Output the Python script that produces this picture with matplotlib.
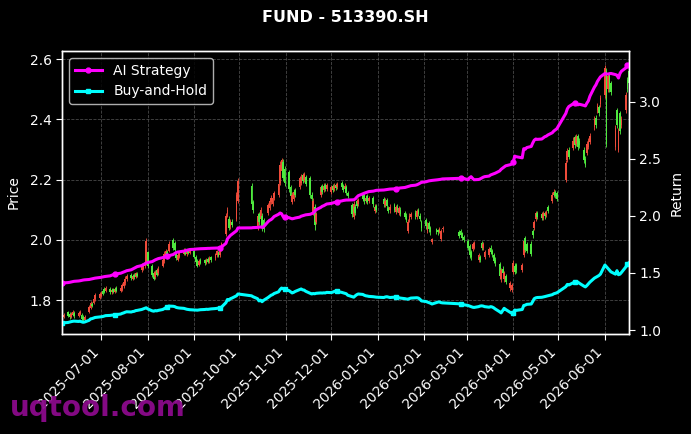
import matplotlib
matplotlib.use("Agg")
import matplotlib.pyplot as plt
import matplotlib.dates as mdates
import numpy as np
import pandas as pd

# ---------------- data ----------------
start_date = "2025-06-05"
end_date = "2026-06-17"
holidays = ["2025-10-01", "2025-10-02", "2025-10-03", "2025-10-06", "2025-10-07", "2025-10-08",
            "2026-01-01", "2026-01-02",
            "2026-02-16", "2026-02-17", "2026-02-18", "2026-02-19", "2026-02-20", "2026-02-23",
            "2026-04-06", "2026-05-01", "2026-05-04", "2026-05-05"]

opens = [
    # 2025-06
    1.738,1.745,1.760,1.755,1.745,1.752,1.758,1.748,1.755,1.752,1.745,1.735,1.762,1.775,1.788,1.790,1.803,1.808,
    # 2025-07
    1.815,1.830,1.838,1.832,1.838,1.826,1.836,1.828,1.840,1.832,1.835,1.848,1.858,1.870,1.884,1.872,1.885,1.878,1.888,1.900,1.905,1.912,1.925,
    # 2025-08
    1.960,1.915,1.890,1.878,1.900,1.890,1.915,1.930,1.945,1.960,1.965,2.000,1.990,1.958,1.935,1.945,1.955,1.968,1.952,1.965,1.958,
    # 2025-09
    1.962,1.945,1.930,1.918,1.935,1.932,1.925,1.938,1.930,1.942,1.940,1.950,1.958,1.950,1.968,2.020,2.085,2.070,2.045,2.060,2.070,2.130,
    # 2025-10
    2.180,2.125,2.040,2.085,2.070,2.080,2.065,2.090,2.105,2.125,2.120,2.140,2.150,2.190,2.230,2.260,2.235,
    # 2025-11
    2.225,2.175,2.125,2.135,2.165,2.175,2.190,2.215,2.200,2.210,2.205,2.150,2.090,2.110,2.060,2.150,2.180,2.165,2.182,2.170,
    # 2025-12
    2.160,2.178,2.168,2.182,2.175,2.190,2.180,2.168,2.175,2.155,2.115,2.075,2.110,2.128,2.120,2.150,2.148,2.130,2.145,2.128,2.140,2.095,2.112,
    # 2026-01
    2.135,2.115,2.132,2.105,2.098,2.115,2.092,2.110,2.090,2.100,2.088,2.080,2.030,2.065,2.075,2.090,2.075,2.098,2.080,2.060,
    # 2026-02
    2.065,2.030,2.055,2.040,1.992,2.035,2.032,2.028,2.002,2.035,2.025,2.030,2.022,2.010,
    # 2026-03
    1.998,1.980,1.960,1.970,1.975,1.935,1.945,1.990,1.972,1.945,1.950,1.975,1.965,1.950,1.935,1.920,1.870,1.905,1.870,1.880,1.840,1.835,
    # 2026-04
    1.895,1.915,1.918,1.900,1.950,2.005,1.985,1.988,2.030,2.040,2.070,2.090,2.085,2.072,2.090,2.082,2.110,2.130,2.148,2.160,2.155,
    # 2026-05
    2.200,2.265,2.300,2.305,2.340,2.320,2.345,2.330,2.300,2.270,2.290,2.310,2.325,2.375,2.405,2.430,2.440,2.450,
    # 2026-06
    2.480,2.560,2.500,2.550,2.520,2.310,2.430,2.300,2.420,2.380,2.430,2.530,2.560,
]

closes = [
    # 2025-06
    1.745,1.750,1.748,1.745,1.756,1.760,1.748,1.757,1.760,1.738,1.735,1.745,1.778,1.790,1.782,1.805,1.818,1.820,
    # 2025-07
    1.822,1.822,1.828,1.840,1.828,1.834,1.828,1.838,1.832,1.842,1.850,1.862,1.872,1.880,1.874,1.882,1.878,1.890,1.882,1.915,1.918,1.925,1.995,
    # 2025-08
    1.915,1.885,1.872,1.895,1.885,1.905,1.935,1.955,1.962,1.945,1.985,1.975,1.968,1.940,1.950,1.958,1.968,1.955,1.962,1.958,1.965,
    # 2025-09
    1.945,1.928,1.915,1.930,1.925,1.922,1.935,1.928,1.940,1.932,1.952,1.962,1.948,1.965,1.985,2.080,2.100,2.040,2.062,2.050,2.150,2.195,
    # 2025-10
    2.120,2.100,2.080,2.060,2.100,2.040,2.035,2.115,2.130,2.140,2.138,2.155,2.185,2.250,2.265,2.205,2.190,
    # 2025-11
    2.170,2.145,2.150,2.160,2.150,2.205,2.210,2.195,2.220,2.185,2.150,2.135,2.130,2.050,2.085,2.175,2.160,2.180,2.170,2.182,
    # 2025-12
    2.175,2.165,2.180,2.172,2.185,2.175,2.165,2.180,2.155,2.145,2.085,2.120,2.090,2.112,2.132,2.135,2.128,2.140,2.125,2.140,2.118,2.110,2.100,
    # 2026-01
    2.118,2.130,2.112,2.095,2.110,2.100,2.108,2.100,2.105,2.085,2.075,2.065,2.060,2.080,2.085,2.078,2.095,2.085,2.070,2.040,
    # 2026-02
    2.045,2.050,2.035,2.025,2.002,2.028,2.025,2.036,2.030,2.040,2.012,2.018,2.008,2.000,
    # 2026-03
    1.975,1.950,1.942,1.985,1.990,1.950,1.935,1.975,1.985,1.960,1.970,1.960,1.952,1.930,1.922,1.880,1.900,1.890,1.890,1.862,1.858,1.850,
    # 2026-04
    1.925,1.895,1.900,1.918,1.995,1.968,1.965,1.955,2.015,2.058,2.088,2.075,2.072,2.088,2.078,2.092,2.095,2.150,2.160,2.145,2.135,
    # 2026-05
    2.255,2.295,2.275,2.330,2.315,2.340,2.310,2.315,2.265,2.250,2.320,2.330,2.345,2.400,2.380,2.445,2.420,2.470,
    # 2026-06
    2.570,2.320,2.545,2.500,2.490,2.370,2.380,2.360,2.360,2.400,2.480,2.500,2.520,
]

highs = [
    1.752,1.758,1.765,1.760,1.762,1.768,1.764,1.763,1.766,1.758,1.750,1.752,1.784,1.796,1.794,1.812,1.824,1.826,
    1.830,1.836,1.845,1.846,1.843,1.840,1.842,1.844,1.846,1.848,1.856,1.868,1.880,1.886,1.890,1.888,1.892,1.895,1.894,1.922,1.925,1.932,2.005,
    1.965,1.920,1.896,1.902,1.906,1.912,1.942,1.962,1.970,1.966,1.995,2.006,1.996,1.963,1.956,1.964,1.974,1.973,1.968,1.970,1.971,
    1.967,1.950,1.936,1.936,1.940,1.938,1.941,1.943,1.946,1.947,1.958,1.968,1.964,1.971,1.992,2.090,2.110,2.078,2.070,2.068,2.160,2.205,
    2.188,2.132,2.090,2.092,2.110,2.088,2.072,2.122,2.138,2.148,2.146,2.162,2.195,2.262,2.272,2.268,2.245,
    2.232,2.182,2.158,2.168,2.172,2.212,2.218,2.222,2.226,2.216,2.212,2.158,2.138,2.118,2.092,2.182,2.186,2.188,2.190,2.190,
    2.182,2.185,2.188,2.190,2.192,2.196,2.186,2.188,2.182,2.162,2.122,2.130,2.118,2.135,2.140,2.158,2.155,2.148,2.152,2.146,2.146,2.118,2.120,
    2.142,2.138,2.140,2.112,2.118,2.122,2.115,2.118,2.112,2.108,2.095,2.088,2.068,2.088,2.092,2.098,2.102,2.105,2.088,2.066,
    2.072,2.058,2.062,2.046,2.008,2.040,2.038,2.042,2.038,2.046,2.032,2.036,2.028,2.016,
    2.004,1.986,1.966,1.992,1.996,1.956,1.950,1.996,1.992,1.966,1.978,1.982,1.970,1.956,1.942,1.926,1.908,1.912,1.898,1.886,1.865,1.858,
    1.932,1.922,1.925,1.925,2.002,2.012,1.992,1.995,2.036,2.065,2.095,2.097,2.092,2.095,2.097,2.100,2.116,2.158,2.168,2.166,2.162,
    2.265,2.305,2.308,2.340,2.348,2.350,2.352,2.338,2.308,2.278,2.330,2.338,2.355,2.410,2.414,2.455,2.448,2.480,
    2.582,2.570,2.555,2.558,2.528,2.380,2.438,2.370,2.428,2.410,2.490,2.540,2.570,
]

lows = [
    1.733,1.740,1.744,1.738,1.741,1.748,1.742,1.744,1.750,1.732,1.730,1.731,1.758,1.770,1.776,1.786,1.798,1.803,
    1.810,1.816,1.823,1.828,1.822,1.820,1.823,1.824,1.826,1.828,1.830,1.842,1.852,1.865,1.868,1.866,1.872,1.873,1.876,1.895,1.900,1.906,1.918,
    1.908,1.878,1.866,1.872,1.880,1.885,1.910,1.925,1.940,1.938,1.960,1.968,1.962,1.932,1.930,1.940,1.950,1.950,1.947,1.952,1.953,
    1.940,1.922,1.910,1.913,1.919,1.917,1.920,1.922,1.925,1.926,1.935,1.945,1.942,1.945,1.962,2.012,2.075,2.032,2.038,2.042,2.062,2.122,
    2.110,2.090,2.032,2.050,2.062,2.030,2.028,2.082,2.098,2.118,2.112,2.132,2.142,2.182,2.220,2.195,2.180,
    2.160,2.135,2.118,2.128,2.142,2.168,2.182,2.188,2.192,2.178,2.140,2.126,2.082,2.032,2.052,2.142,2.152,2.158,2.164,2.164,
    2.152,2.158,2.162,2.165,2.168,2.168,2.158,2.160,2.148,2.138,2.075,2.068,2.082,2.105,2.112,2.128,2.120,2.124,2.118,2.122,2.110,2.088,2.092,
    2.110,2.108,2.105,2.088,2.090,2.092,2.085,2.092,2.082,2.078,2.068,2.058,2.022,2.058,2.068,2.070,2.068,2.078,2.062,2.030,
    2.038,2.022,2.028,2.018,1.986,2.020,2.018,2.022,1.996,2.028,2.006,2.010,2.000,1.992,
    1.968,1.940,1.935,1.965,1.970,1.928,1.928,1.968,1.966,1.938,1.944,1.952,1.945,1.922,1.915,1.870,1.862,1.882,1.862,1.855,1.832,1.828,
    1.888,1.888,1.892,1.893,1.942,1.960,1.958,1.948,2.008,2.034,2.064,2.068,2.066,2.066,2.070,2.076,2.088,2.124,2.142,2.138,2.128,
    2.192,2.258,2.268,2.298,2.306,2.312,2.300,2.305,2.255,2.242,2.282,2.302,2.318,2.366,2.370,2.420,2.410,2.442,
    2.470,2.310,2.490,2.490,2.480,2.300,2.370,2.292,2.350,2.372,2.420,2.490,2.510,
]

ai_strategy = [
    1.410,1.413,1.416,1.418,1.421,1.424,1.427,1.430,1.432,1.435,1.438,1.440,1.443,1.446,1.449,1.452,1.455,1.460,
    1.462,1.465,1.468,1.470,1.475,1.480,1.485,1.490,1.493,1.498,1.503,1.508,1.514,1.520,1.528,1.535,1.542,1.550,1.556,1.565,1.572,1.580,1.588,
    1.592,1.600,1.608,1.615,1.620,1.626,1.635,1.640,1.645,1.648,1.652,1.662,1.672,1.680,1.684,1.686,1.692,1.696,1.700,1.703,1.706,
    1.708,1.710,1.711,1.712,1.713,1.714,1.715,1.716,1.716,1.717,1.718,1.719,1.720,1.722,1.728,1.760,1.800,1.815,1.830,1.840,1.870,1.895,
    1.896,1.898,1.900,1.902,1.904,1.900,1.905,1.950,1.962,1.968,1.980,1.995,2.015,2.026,2.020,1.995,1.990,
    1.985,1.980,1.975,1.978,1.982,1.990,1.998,2.002,2.005,2.010,2.015,2.020,2.026,2.040,2.055,2.075,2.085,2.090,2.098,2.105,
    2.110,2.114,2.118,2.122,2.126,2.132,2.136,2.138,2.140,2.140,2.141,2.142,2.150,2.165,2.178,2.195,2.200,2.205,2.210,2.214,2.218,2.222,2.225,
    2.228,2.230,2.232,2.234,2.236,2.238,2.240,2.242,2.244,2.246,2.250,2.254,2.258,2.262,2.266,2.270,2.274,2.280,2.288,2.295,
    2.300,2.304,2.308,2.310,2.312,2.316,2.318,2.320,2.322,2.325,2.330,2.333,2.333,2.330,
    2.318,2.335,2.345,2.330,2.318,2.320,2.325,2.333,2.340,2.345,2.350,2.360,2.365,2.370,2.375,2.395,2.410,2.420,2.430,2.440,2.450,2.455,
    2.470,2.525,2.520,2.510,2.590,2.585,2.600,2.610,2.640,2.665,2.675,2.672,2.675,2.685,2.695,2.700,2.710,2.730,2.745,2.755,2.765,
    2.900,2.940,2.960,2.985,2.990,2.985,2.975,2.980,2.970,2.965,2.990,3.010,3.050,3.130,3.150,3.180,3.200,3.220,
    3.250,3.245,3.245,3.248,3.250,3.240,3.235,3.210,3.250,3.270,3.300,3.320,3.330,
]

buy_and_hold = [
    1.060,1.063,1.066,1.070,1.073,1.076,1.078,1.075,1.078,1.072,1.068,1.070,1.085,1.098,1.100,1.105,1.110,1.114,
    1.116,1.118,1.122,1.126,1.128,1.130,1.131,1.134,1.135,1.140,1.146,1.150,1.156,1.160,1.158,1.162,1.164,1.170,1.172,1.180,1.185,1.190,1.195,
    1.185,1.168,1.165,1.170,1.168,1.172,1.180,1.188,1.195,1.200,1.210,1.208,1.205,1.198,1.195,1.193,1.190,1.186,1.182,1.180,1.178,
    1.176,1.175,1.174,1.176,1.178,1.180,1.182,1.181,1.183,1.185,1.188,1.190,1.192,1.194,1.200,1.240,1.268,1.262,1.275,1.280,1.300,1.316,
    1.300,1.292,1.275,1.255,1.262,1.248,1.260,1.285,1.295,1.305,1.310,1.320,1.335,1.355,1.368,1.362,1.358,
    1.345,1.335,1.325,1.330,1.338,1.355,1.360,1.352,1.350,1.340,1.322,1.316,1.320,1.318,1.322,1.325,1.324,1.326,1.325,1.330,
    1.328,1.332,1.338,1.342,1.338,1.330,1.326,1.322,1.318,1.305,1.292,1.288,1.300,1.310,1.316,1.312,1.305,1.300,1.298,1.295,1.292,1.290,1.288,
    1.285,1.290,1.292,1.288,1.285,1.288,1.290,1.286,1.283,1.280,1.275,1.272,1.270,1.276,1.280,1.282,1.283,1.280,1.270,1.255,
    1.250,1.245,1.240,1.235,1.228,1.240,1.245,1.246,1.240,1.238,1.230,1.228,1.226,1.222,
    1.215,1.210,1.205,1.200,1.198,1.205,1.210,1.212,1.210,1.205,1.200,1.205,1.202,1.195,1.185,1.160,1.150,1.170,1.190,1.180,1.155,1.148,
    1.150,1.175,1.172,1.180,1.215,1.218,1.225,1.228,1.250,1.275,1.282,1.285,1.287,1.290,1.293,1.297,1.300,1.310,1.318,1.322,1.326,
    1.380,1.400,1.395,1.415,1.422,1.415,1.420,1.410,1.385,1.378,1.390,1.405,1.420,1.455,1.462,1.470,1.478,1.490,
    1.570,1.555,1.540,1.525,1.510,1.490,1.520,1.485,1.490,1.505,1.555,1.580,1.590,
]

title = "FUND - 513390.SH"
series_names = ["AI Strategy", "Buy-and-Hold"]
price_ticks = [1.8, 2.0, 2.2, 2.4, 2.6]
return_ticks = [1.0, 1.5, 2.0, 2.5, 3.0]

# ---------------- build ----------------
dates = pd.bdate_range(start_date, end_date)
dates = dates[~dates.isin(pd.to_datetime(holidays))]
n = min(len(dates), len(opens), len(closes), len(highs), len(lows), len(ai_strategy), len(buy_and_hold))
dates = dates[:n]
o = np.array(opens[:n]); c = np.array(closes[:n])
hi = np.array(highs[:n]); lo = np.array(lows[:n])
ai = np.array(ai_strategy[:n]); bh = np.array(buy_and_hold[:n])

UP = "#ef4b3a"
DOWN = "#4ee93e"
WHITE = "white"

fig = plt.figure(figsize=(6.91, 4.34), dpi=100, facecolor="black")
ax = fig.add_axes([62/691, 1-334/434, 567/691, 283/434], facecolor="black")
ax2 = ax.twinx()

colors = [UP if cc >= oo else DOWN for oo, cc in zip(o, c)]
heights = np.maximum(np.abs(c - o), 0.004)
bottoms = np.minimum(o, c)
ax.vlines(dates, lo, hi, colors=colors, linewidth=0.7, alpha=0.9, zorder=2)
ax.bar(dates, heights, bottom=bottoms, width=1.15, color=colors, linewidth=0, zorder=2)

ax2.plot(dates, ai, color="#ff00ff", lw=2.2, marker="o", markersize=3.5, markevery=25, label=series_names[0])
ax2.plot(dates, bh, color="#00ffff", lw=2.2, marker="s", markersize=3.5, markevery=25, label=series_names[1])

ax.set_xlim(dates[0], dates[-1])
ax.set_ylim(1.688, 2.627)
ax2.set_ylim(0.965, 3.447)
ax.set_yticks(price_ticks)
ax2.set_yticks(return_ticks)
ax.xaxis.set_major_locator(mdates.MonthLocator())
ax.xaxis.set_major_formatter(mdates.DateFormatter("%Y-%m-%d"))
for lab in ax.get_xticklabels():
    lab.set_rotation(45)
    lab.set_ha("right")

for a in (ax, ax2):
    a.tick_params(colors=WHITE, labelsize=10, length=4)
    for s in a.spines.values():
        s.set_color(WHITE)
        s.set_linewidth(1.0)

ax.grid(True, color="#5a5a5a", linestyle="--", linewidth=0.6, alpha=0.8)
ax.set_axisbelow(True)
ax.set_ylabel("Price", color=WHITE, fontsize=10, labelpad=6)
ax2.set_ylabel("Return", color=WHITE, fontsize=10, labelpad=6)

leg = ax2.legend(loc="upper left", fontsize=10, facecolor="black", edgecolor="#cccccc",
                 labelcolor=WHITE, framealpha=0.85)

fig.text(0.5, 1-18/434, title, ha="center", va="center", color=WHITE, fontsize=11.5, fontweight="bold")
fig.text(10/691, 1-408/434, "uqtool.com", ha="left", va="center", color="#8b0a8b",
         fontsize=20, fontweight="bold", alpha=0.95, zorder=10)

fig.savefig("out.png", dpi=100, facecolor="black")
